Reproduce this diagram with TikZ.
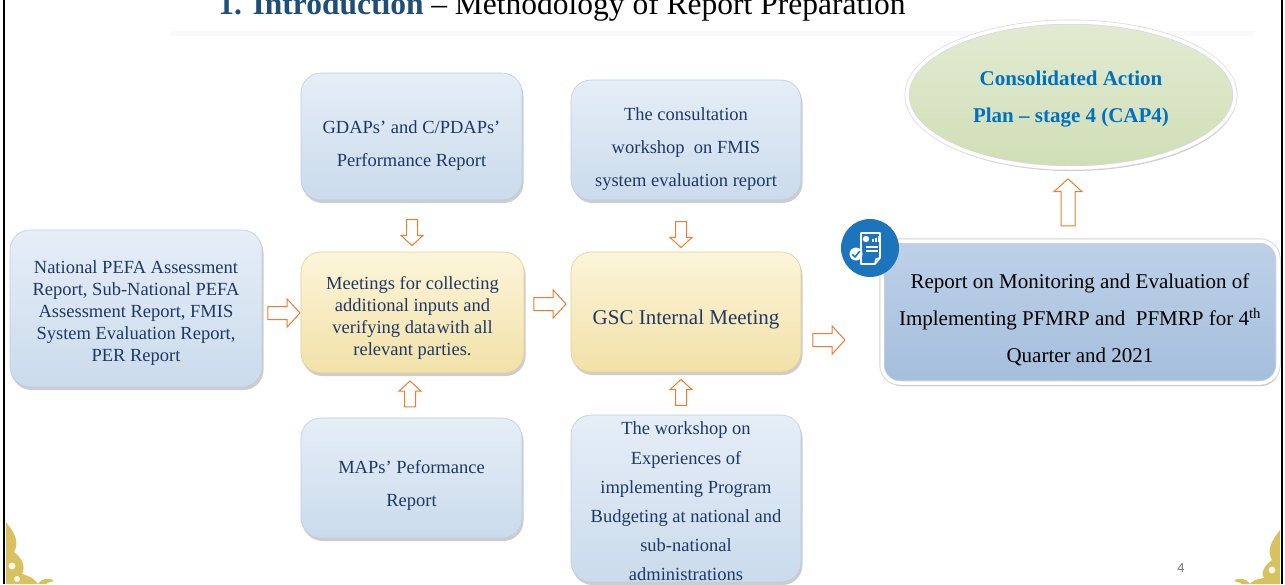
\documentclass[tikz,border=0pt]{standalone}
\usepackage{fontspec}
\setmainfont{Liberation Serif}
\newfontfamily\pagenumfont{Liberation Sans}
\usetikzlibrary{shapes.geometric,shapes.arrows,shadows}

\definecolor{navy}{HTML}{1F3864}
\definecolor{titleblue}{HTML}{1F4E79}
\definecolor{capblue}{HTML}{0070C0}
\definecolor{arroworange}{HTML}{ED7D31}
\definecolor{bluetop}{HTML}{E6EEF7}
\definecolor{bluebot}{HTML}{CADBEC}
\definecolor{blueedge}{HTML}{BCCDE0}
\definecolor{yeltop}{HTML}{FCF5DA}
\definecolor{yelbot}{HTML}{F2E1A8}
\definecolor{yeledge}{HTML}{E2D092}
\definecolor{reporttop}{HTML}{BED1E8}
\definecolor{reportbot}{HTML}{A4BEDD}
\definecolor{greentop}{HTML}{E2EBD2}
\definecolor{greenbot}{HTML}{D0DEB6}
\definecolor{iconblue}{HTML}{1C75BC}
\definecolor{gold}{HTML}{D2B746}

\tikzset{
  panel/.style={rounded corners=20pt,
    drop shadow={shadow xshift=1.5pt, shadow yshift=-3pt, opacity=0.28, fill=black!70}},
  bluebox/.style={panel, top color=bluetop, bottom color=bluebot, draw=blueedge,
    line width=0.6pt},
  yellowbox/.style={panel, top color=yeltop, bottom color=yelbot, draw=yeledge,
    line width=0.6pt},
  reportbox/.style={rounded corners=18pt, top color=reporttop, bottom color=reportbot,
    draw=black!18, double=white, double distance=3.5pt, line width=0.8pt,
    drop shadow={shadow xshift=1pt, shadow yshift=-3pt, opacity=0.35, fill=black!70}},
  capoval/.style={ellipse, top color=greentop, bottom color=greenbot,
    draw=black!15, double=white, double distance=3.5pt, line width=0.7pt,
    drop shadow={shadow xshift=1pt, shadow yshift=-3pt, opacity=0.3, fill=black!70}},
  label text/.style={align=center, inner sep=0pt, text=navy},
  tight/.style={label text, font=\fontsize{18.5}{22}\selectfont},
  loose/.style={label text, font=\fontsize{18.5}{33}\selectfont},
  flowarrow/.style={single arrow, draw=arroworange, fill=white, line width=1pt,
    inner xsep=0pt, minimum width=0pt, single arrow tip angle=95},
  hflow/.style={flowarrow, minimum height=32pt, inner ysep=6pt,
    single arrow head extend=7.5pt},
  vflow/.style={flowarrow, minimum height=26pt, inner ysep=5pt,
    single arrow head extend=5.5pt},
}

\begin{document}
\begin{tikzpicture}[x=1pt, y=-1pt]
\useasboundingbox (0,0) rectangle (1285,584);
\fill[white] (0,0) rectangle (1285,584);

% slide frame
\draw[black, line width=2.5pt] (4,0) -- (4,584);
\draw[black, line width=2.5pt] (1282,0) -- (1282,584);

% title and faint rule beneath it
\node[anchor=base, inner sep=0pt, font=\fontsize{31.5}{33}\selectfont] (title) at (562,14.5)
  {\textcolor{titleblue}{\textbf{1. Introduction}} -- Methodology of Report Preparation};
\fill[black!2] (170,31) rectangle (1255,36);

% corner ornaments
\begin{scope}[fill=gold, opacity=0.85]
  \fill (6,522) .. controls (14,532) and (20,542) .. (14,552)
        .. controls (22,558) and (26,566) .. (22,574)
        .. controls (30,576) and (36,580) .. (38,584) -- (6,584) -- cycle;
  \fill[white] (12,566) circle (3.5);
  \fill[white] (17,579) circle (3);
  \fill (38,584) .. controls (42,578) and (50,577) .. (54,581)
        .. controls (50,582) and (47,583) .. (46,584) -- cycle;
  \fill (1280,530) .. controls (1272,540) and (1266,550) .. (1272,560)
        .. controls (1264,566) and (1260,574) .. (1264,578)
        .. controls (1256,579) and (1252,581) .. (1250,584) -- (1280,584) -- cycle;
  \fill[white] (1272,570) circle (3.5);
  \fill (1250,584) .. controls (1246,578) and (1238,577) .. (1234,581)
        .. controls (1238,582) and (1241,583) .. (1242,584) -- cycle;
\end{scope}

% source documents and inputs
\node[bluebox, minimum width=252pt, minimum height=157pt] (pefa) at (136,308.5) {};
\node[tight] (pefatext) at (136,313)
  {National PEFA Assessment\\ Report, Sub-National PEFA\\ Assessment Report, FMIS\\
   System Evaluation Report,\\ PER Report};

\node[bluebox, minimum width=221pt, minimum height=127pt] (gdap) at (411.5,136.5) {};
\node[loose] (gdaptext) at (411.5,145.5) {GDAPs' and C/PDAPs'\\ Performance Report};

\node[yellowbox, minimum width=223pt, minimum height=121pt] (meet) at (412.5,312.5) {};
\node[tight] (meettext) at (412.5,317.5)
  {Meetings for collecting\\ additional inputs and\\ verifying data\hspace{1pt}with all\\ relevant parties.};

\node[bluebox, minimum width=221pt, minimum height=120pt] (maps) at (411.5,478) {};
\node[loose] (mapstext) at (411.5,485) {MAPs' Peformance\\ Report};

\node[bluebox, minimum width=230pt, minimum height=120pt] (consult) at (686,140) {};
\node[loose] (consulttext) at (686,149)
  {The consultation\\ workshop\ \ on FMIS\\ system evaluation report};

\node[yellowbox, minimum width=230pt, minimum height=120pt] (gsc) at (686,312) {};
\node[label text, font=\fontsize{21}{24}\selectfont] (gsctext) at (686,319) {GSC Internal Meeting};

\node[bluebox, minimum width=230pt, minimum height=167pt] (workshop) at (686,498.5) {};
\node[label text, font=\fontsize{18.5}{29.2}\selectfont] (workshoptext) at (686,501.5)
  {The workshop on\\ Experiences of\\ implementing Program\\ Budgeting at national and\\
   sub-national\\ administrations};

% outputs
\node[reportbox, minimum width=396pt, minimum height=142pt] (report) at (1080,312) {};
\node[label text, text=black, font=\fontsize{21}{37}\selectfont] (reporttext) at (1080,320)
  {Report on Monitoring and Evaluation of\\ Implementing PFMRP and\ \ PFMRP for 4\textsuperscript{th}\\
   Quarter and 2021};

\node[capoval, minimum width=328pt, minimum height=146pt] (cap) at (1071,95) {};
\node[label text, text=capblue, font=\fontsize{21}{37}\selectfont\bfseries] (captext) at (1071,99)
  {Consolidated Action\\ Plan -- stage 4 (CAP4)};

% report icon
\node[circle, fill=iconblue, minimum size=58pt, inner sep=0pt] (icon) at (870,248) {};
\begin{scope}[white, line width=1.6pt, line join=round]
  \draw (861,233) -- (880,233) -- (880,258) -- (875,264) -- (861,264) -- cycle;
  \draw (875,264) -- (876,259) -- (880,258);
  \fill (866,239) circle (3.2);
  \fill (872,239) rectangle (873.6,242);
  \fill (875,237.5) rectangle (876.6,242);
  \fill (878,235.5) rectangle (879.4,242);
  \draw[line width=1.3pt] (866,247) -- (878,247) (866,251) -- (878,251);
\end{scope}
\fill[white] (856,254) circle (6.5);
\draw[iconblue, line width=1.6pt, line cap=round, line join=round]
  (852.5,254.5) -- (855,257) -- (859.5,251.5);

% flow arrows between the stages
\node[hflow] (a1) at (281,313) {};
\node[hflow] (a2) at (547,304) {};
\node[hflow] (a3) at (826,340) {};
\node[vflow, rotate=-90] (d1) at (412,230) {};
\node[vflow, rotate=90] (u1) at (410,396.5) {};
\node[vflow, rotate=-90] (d2) at (681,232) {};
\node[vflow, rotate=90] (u2) at (681,395) {};
\node[flowarrow, rotate=90, minimum height=47pt, inner ysep=6.5pt,
  single arrow head extend=7pt] (u3) at (1068,205.5) {};

% page number
\node[font=\pagenumfont\fontsize{13}{15}\selectfont, text=black!55] (pnum) at (1181,568) {4};
\end{tikzpicture}
\end{document}
